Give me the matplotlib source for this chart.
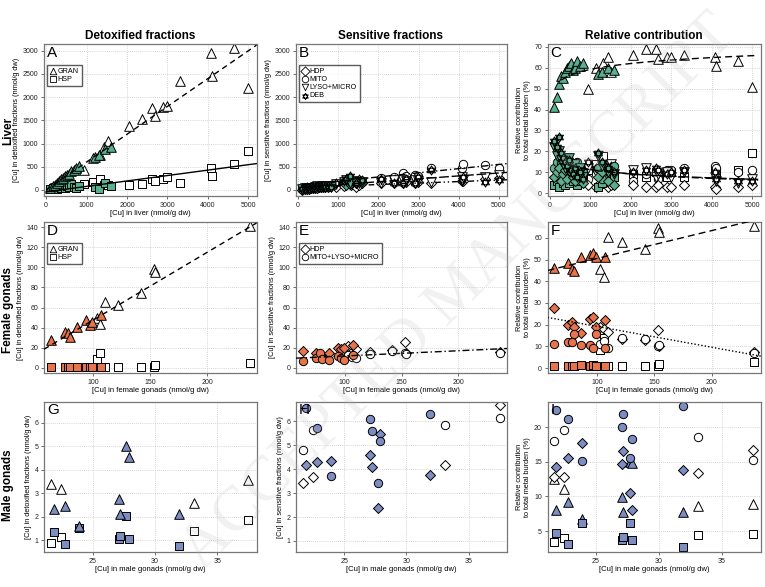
import numpy as np
import matplotlib
matplotlib.use('Agg')
import matplotlib.pyplot as plt
from matplotlib.path import Path

plt.rcParams['font.family'] = ['Liberation Sans', 'DejaVu Sans']

# ---------------- data ----------------
GREEN = '#58b08f'
ORANGE = '#e8744c'
BLUE = '#7d8dc2'

# Liver, site 1 (filled) and site 2 (open)
liver_g_cu = [110, 180, 230, 280, 330, 380, 420, 470, 520, 570, 620, 680, 740, 820, 1200, 1300, 1450, 1600]
liver_w_cu = [950, 1150, 1330, 1440, 1520, 2060, 2380, 2620, 2680, 2900, 2990, 3320, 4080, 4110, 4650, 5000]

a_gran_g = [40, 80, 110, 150, 190, 230, 250, 300, 320, 350, 400, 430, 470, 520, 700, 760, 880, 930]
a_hsp_g = [20, 40, 60, 30, 80, 50, 100, 40, 90, 60, 120, 70, 50, 90, 60, 20, 150, 80]
a_gran_w = [430, 680, 760, 930, 1050, 1380, 1520, 1760, 1590, 1790, 1800, 2350, 2950, 2450, 3050, 2200]
a_hsp_w = [120, 180, 230, 100, 110, 108, 120, 230, 200, 230, 270, 140, 480, 300, 560, 830]

b_hdp_g = [10, 20, 25, 30, 35, 45, 40, 50, 55, 60, 60, 70, 70, 80, 110, 120, 140, 150]
b_mito_g = [15, 25, 20, 40, 35, 55, 50, 40, 60, 80, 70, 90, 65, 100, 150, 130, 200, 170]
b_lyso_g = [25, 35, 45, 45, 50, 45, 60, 80, 70, 65, 90, 70, 90, 70, 220, 160, 150, 180]
b_deb_g = [30, 40, 60, 50, 55, 60, 55, 75, 65, 60, 75, 55, 80, 60, 240, 300, 160, 210]
b_hdp_w = [60, 90, 110, 70, 100, 160, 150, 160, 170, 140, 180, 150, 200, 190, 230, 250]
b_mito_w = [110, 150, 170, 160, 190, 250, 290, 355, 300, 330, 300, 470, 470, 560, 540, 470]
b_lyso_w = [120, 170, 140, 200, 160, 160, 220, 215, 190, 215, 200, 180, 290, 215, 290, 330]
b_deb_w = [150, 190, 210, 150, 230, 230, 160, 140, 230, 140, 270, 420, 215, 290, 180, 215]

c_gran_g = [41, 46, 52, 56, 55, 58, 60, 61, 62, 59, 60, 63, 61, 62, 57, 58, 60, 59]
c_hsp_g = [4, 6, 3, 8, 5, 4, 7, 5, 9, 6, 10, 4, 6, 7, 3, 5, 12, 8]
c_hdp_g = [8, 10, 12, 6, 9, 11, 7, 13, 10, 8, 6, 9, 12, 5, 8, 10, 6, 4]
c_mito_g = [12, 15, 9, 14, 11, 16, 13, 8, 12, 14, 11, 15, 9, 10, 12, 7, 11, 13]
c_lyso_g = [22, 18, 20, 16, 14, 12, 15, 17, 13, 11, 14, 10, 12, 8, 18, 13, 10, 9]
c_deb_g = [25, 22, 27, 19, 17, 15, 13, 16, 11, 9, 12, 8, 10, 7, 19, 15, 12, 10]
c_gran_w = [50, 60, 62, 65, 58, 66, 69, 69, 64, 65, 65, 66, 65, 61, 63, 51]
c_hsp_w = [11, 14, 18, 10, 9, 9, 8, 10, 9, 8, 10, 8, 11, 10, 11, 19]
c_hdp_w = [4, 3, 5, 3, 4, 4, 3, 3, 4, 3, 3, 4, 3, 2, 3, 4]
c_mito_w = [7, 9, 10, 8, 11, 6, 9, 10, 7, 11, 11, 12, 13, 12, 10, 11]
c_lyso_w = [12, 10, 12, 9, 14, 11, 12, 8, 9, 10, 8, 10, 8, 6, 5, 7]
c_deb_w = [15, 12, 10, 11, 13, 10, 11, 12, 11, 9, 10, 11, 10, 7, 6, 6]

# Female gonads
fem_o_cu = [63, 75, 78, 80, 86, 94, 97, 99, 107]
fem_w_cu = [103, 106, 110, 122, 142, 153, 154, 237]
d_gran_o = [28, 36, 35, 31, 41, 48, 43, 46, 53]
d_hsp_o = [0.5, 0.5, 0.5, 0.5, 1, 0.5, 1, 0.5, 0.5]
d_gran_w = [50, 44, 66, 63, 74, 98, 95, 141]
d_hsp_w = [9, 15, 1, 1, 1, 1, 3, 5]
e_hdp_o = [17, 15, 13, 11, 15, 20, 19, 20, 23]
e_mito_o = [7, 10, 15, 9, 8, 12, 10, 8, 13]
e_hdp_w = [22, 16, 19, 16, 18, 26, 15, 16]
e_mito_w = [13, 11, 10, 14, 17, 15, 14, 15]
f_gran_o = [46, 48.5, 45.5, 44.5, 51, 52, 53, 51, 51]
f_hsp_o = [1, 1, 1, 1, 1.5, 1, 1.5, 1, 1]
f_hdp_o = [27.5, 19.7, 21, 19, 16, 22.5, 23.5, 19, 22]
f_mito_o = [11, 12.2, 12, 15.5, 10.8, 10.8, 9, 15.5, 9]
f_gran_w = [45.5, 42, 60.5, 58, 55, 64.5, 62.5, 65.5]
f_hsp_w = [8.5, 14, 1, 1, 1, 1, 2, 2.6]
f_hdp_w = [18.7, 18, 16.5, 13.5, 13, 17.3, 10, 7.4]
f_mito_w = [11, 12.5, 9.2, 14, 13.2, 10, 10.5, 7]

# Male gonads
male_b_cu = [21.9, 22.8, 23.9, 27.1, 27.2, 27.7, 27.9, 31.9]
male_w_cu = [21.7, 22.5, 33.1, 37.5]
g_gran_b = [2.35, 2.46, 1.61, 2.74, 2.13, 5.0, 4.55, 2.1]
g_hsp_b = [1.35, 0.86, 1.5, 1.07, 1.16, 2.02, 1.07, 0.74]
g_gran_w = [3.38, 3.17, 2.6, 3.55]
g_hsp_w = [0.89, 1.14, 1.4, 1.85]
h_hdp_b = [4.18, 4.28, 4.35, 4.58, 4.08, 2.36, 5.45, 3.76]
h_mito_b = [6.56, 5.72, 3.72, 6.1, 5.58, 3.44, 5.16, 6.28]
h_hdp_w = [3.41, 3.69, 4.18, 6.66]
h_mito_w = [4.78, 5.65, 5.82, 6.14]
i_gran_b = [8.0, 9.2, 6.8, 9.9, 7.7, 15.0, 14.8, 7.7]
i_hsp_b = [4.7, 3.2, 6.2, 3.8, 4.1, 6.2, 3.7, 2.7]
i_hdp_b = [14.3, 15.6, 17.7, 14.7, 16.5, 10.5, 8.0, 13.8]
i_mito_b = [22.5, 21.1, 15.1, 20.0, 21.9, 15.6, 18.3, 23.0]
i_gran_w = [12.5, 11.1, 8.6, 8.9]
i_hsp_w = [3.4, 4.0, 4.5, 4.6]
i_hdp_w = [12.8, 12.8, 13.4, 16.7]
i_mito_w = [18.0, 19.6, 18.6, 15.3]

# fitted trend lines (intercept, slope)
fit_a_gran = (0, 0.6)
fit_a_hsp = (-40, 0.117)
fit_b = [(100, 0.09), (51, 0.063), (53, 0.032)]
fit_c_gran = (30.8, 4.1)      # a + b*ln(x)
fit_c_rest = [(32.4, -3.05), (31.0, -2.85)]
fit_d_gran = (-19.8, 0.674)
fit_e = (6.8, 0.0515)
fit_f_gran = (37.6, 0.1287)
fit_f_rest = (28.8, -0.0961)

# DEB marker: two overlapping triangles
_v = [(0, 1), (-0.866, -0.5), (0.866, -0.5), (0, 1),
      (0, -1), (0.866, 0.5), (-0.866, 0.5), (0, -1)]
_c = [Path.MOVETO, Path.LINETO, Path.LINETO, Path.CLOSEPOLY] * 2
DEB = Path(_v, _c)

# marker sizes
S_TRI, S_SQ, S_CIR, S_DIA, S_STAR = 48, 34, 36, 26, 44

W, H = 765, 587
fig = plt.figure(figsize=(W / 100, H / 100), dpi=100)

cols = [(44, 256.5), (296, 507), (547.5, 761)]
rows = [(44, 196), (222, 373), (402, 552)]


def make_ax(r, c):
    l, rr = cols[c]
    t, b = rows[r]
    ax = fig.add_axes([l / W, 1 - b / H, (rr - l) / W, (b - t) / H])
    for s in ax.spines.values():
        s.set_color('#777777')
        s.set_linewidth(0.9)
    ax.tick_params(labelsize=5, length=2.5, width=0.6, color='#555555', pad=1.5, labelcolor='#222222')
    ax.grid(True, color='#c8c8c8', linestyle=(0, (1, 1.5)), linewidth=0.6)
    ax.set_axisbelow(True)
    return ax


def pts(ax, x, y, marker, fc, s):
    ax.scatter(x, y, marker=marker, s=s, facecolors=fc, edgecolors='black', linewidths=0.7, zorder=2)


def letter(ax, t):
    ax.text(0.015, 0.99, t, transform=ax.transAxes, fontsize=11, va='top', ha='left', zorder=5)


def legend(ax, items):
    hs = []
    for m, lab in items:
        hs.append(ax.scatter([], [], marker=m, s=22, facecolors='white', edgecolors='black', linewidths=0.6, label=lab))
    lg = ax.legend(handles=hs, loc='upper left', bbox_to_anchor=(0.0, 0.88), fontsize=5.2,
                   frameon=True, fancybox=False, handletextpad=0.1, borderpad=0.4,
                   labelspacing=0.15, handlelength=1.0, borderaxespad=0.4)
    lg.get_frame().set_edgecolor('#333333')
    lg.get_frame().set_linewidth(1.0)


def line(ax, x0, x1, a, b, ls, log=False):
    xs = np.linspace(x0, x1, 100)
    ys = a + b * (np.log(xs) if log else xs)
    ax.plot(xs, ys, color='black', linestyle=ls, linewidth=1.0, zorder=3)


ylab_det = '[Cu] in detoxified fractions (nmol/g dw)'
ylab_sen = '[Cu] in sensitive fractions (nmol/g dw)'
ylab_rel = 'Relative contribution\nto total metal burden (%)'
lab_kw = dict(fontsize=5.3, labelpad=2)

# ---- A ----
ax = make_ax(0, 0)
pts(ax, liver_w_cu, a_gran_w, '^', 'white', S_TRI)
pts(ax, liver_w_cu, a_hsp_w, 's', 'white', S_SQ)
pts(ax, liver_g_cu, a_hsp_g, 's', GREEN, S_SQ)
pts(ax, liver_g_cu, a_gran_g, '^', GREEN, S_TRI)
line(ax, 0, 5200, *fit_a_gran, (0, (4, 3)))
line(ax, 0, 5200, *fit_a_hsp, '-')
ax.set_xlim(-50, 5200)
ax.set_ylim(-130, 3145)
ax.set_xticks(range(0, 5001, 1000))
ax.set_yticks(range(0, 3001, 500))
ax.set_ylabel(ylab_det, **lab_kw)
ax.set_xlabel('[Cu] in liver (nmol/g dw)', fontsize=5.5, labelpad=1)
letter(ax, 'A')
legend(ax, [('^', 'GRAN'), ('s', 'HSP')])

# ---- B ----
ax = make_ax(0, 1)
pts(ax, liver_w_cu, b_mito_w, 'o', 'white', S_CIR)
pts(ax, liver_w_cu, b_hdp_w, 'D', 'white', S_DIA)
pts(ax, liver_w_cu, b_lyso_w, 'v', 'white', S_TRI)
pts(ax, liver_w_cu, b_deb_w, DEB, 'white', S_STAR)
pts(ax, liver_g_cu, b_mito_g, 'o', GREEN, S_CIR)
pts(ax, liver_g_cu, b_hdp_g, 'D', GREEN, S_DIA)
pts(ax, liver_g_cu, b_lyso_g, 'v', GREEN, S_TRI)
pts(ax, liver_g_cu, b_deb_g, DEB, GREEN, S_STAR)
for (a, b), ls in zip(fit_b, [(0, (5, 2, 1, 2)), (0, (7, 2)), (0, (4, 2, 1, 2, 1, 2))]):
    line(ax, 100, 5200, a, b, ls)
ax.set_xlim(-50, 5200)
ax.set_ylim(-130, 3145)
ax.set_xticks(range(0, 5001, 1000))
ax.set_yticks(range(0, 3001, 500))
ax.set_ylabel(ylab_sen, **lab_kw)
ax.set_xlabel('[Cu] in liver (nmol/g dw)', fontsize=5.5, labelpad=1)
letter(ax, 'B')
legend(ax, [('D', 'HDP'), ('o', 'MITO'), ('v', 'LYSO+MICRO'), (DEB, 'DEB')])

# ---- C ----
ax = make_ax(0, 2)
pts(ax, liver_w_cu, c_gran_w, '^', 'white', S_TRI)
pts(ax, liver_w_cu, c_hsp_w, 's', 'white', S_SQ)
pts(ax, liver_w_cu, c_mito_w, 'o', 'white', S_CIR)
pts(ax, liver_w_cu, c_hdp_w, 'D', 'white', S_DIA)
pts(ax, liver_w_cu, c_lyso_w, 'v', 'white', S_TRI)
pts(ax, liver_w_cu, c_deb_w, DEB, 'white', S_STAR)
pts(ax, liver_g_cu, c_gran_g, '^', GREEN, S_TRI)
pts(ax, liver_g_cu, c_hsp_g, 's', GREEN, S_SQ)
pts(ax, liver_g_cu, c_mito_g, 'o', GREEN, S_CIR)
pts(ax, liver_g_cu, c_hdp_g, 'D', GREEN, S_DIA)
pts(ax, liver_g_cu, c_lyso_g, 'v', GREEN, S_TRI)
pts(ax, liver_g_cu, c_deb_g, DEB, GREEN, S_STAR)
line(ax, 290, 5150, *fit_c_gran, (0, (5, 3)), log=True)
line(ax, 450, 5150, *fit_c_rest[0], (0, (5, 2, 1, 2)), log=True)
line(ax, 450, 5150, *fit_c_rest[1], (0, (7, 2)), log=True)
ax.set_xlim(-50, 5220)
ax.set_ylim(-1.3, 71.3)
ax.set_xticks(range(0, 5001, 1000))
ax.set_yticks(range(0, 71, 10))
ax.set_ylabel(ylab_rel, **lab_kw)
ax.set_xlabel('[Cu] in liver (nmol/g dw)', fontsize=5.5, labelpad=1)
letter(ax, 'C')

# ---- D ----
ax = make_ax(1, 0)
pts(ax, fem_w_cu, d_gran_w, '^', 'white', S_TRI)
pts(ax, fem_w_cu, d_hsp_w, 's', 'white', S_SQ)
pts(ax, fem_o_cu, d_hsp_o, 's', ORANGE, S_SQ)
pts(ax, fem_o_cu, d_gran_o, '^', ORANGE, S_TRI)
line(ax, 57, 243, *fit_d_gran, (0, (4, 3)))
ax.set_xlim(57, 243)
ax.set_ylim(-5, 145)
ax.set_xticks([100, 150, 200])
ax.set_yticks(range(0, 141, 20))
ax.set_ylabel(ylab_det, **lab_kw)
ax.set_xlabel('[Cu] in female gonads (nmol/g dw)', fontsize=5.5, labelpad=1)
letter(ax, 'D')
legend(ax, [('^', 'GRAN'), ('s', 'HSP')])

# ---- E ----
ax = make_ax(1, 1)
pts(ax, fem_w_cu, e_hdp_w, 'D', 'white', S_DIA)
pts(ax, fem_w_cu, e_mito_w, 'o', 'white', S_CIR)
pts(ax, fem_o_cu, e_hdp_o, 'D', ORANGE, S_DIA)
pts(ax, fem_o_cu, e_mito_o, 'o', ORANGE, S_CIR)
line(ax, 57, 243, *fit_e, (0, (5, 2, 1, 2)))
ax.set_xlim(57, 243)
ax.set_ylim(-5, 145)
ax.set_xticks([100, 150, 200])
ax.set_yticks(range(0, 141, 20))
ax.set_ylabel(ylab_sen, **lab_kw)
ax.set_xlabel('[Cu] in female gonads (nmol/g dw)', fontsize=5.5, labelpad=1)
letter(ax, 'E')
legend(ax, [('D', 'HDP'), ('o', 'MITO+LYSO+MICRO')])

# ---- F ----
ax = make_ax(1, 2)
pts(ax, fem_w_cu, f_gran_w, '^', 'white', S_TRI)
pts(ax, fem_w_cu, f_hsp_w, 's', 'white', S_SQ)
pts(ax, fem_w_cu, f_hdp_w, 'D', 'white', S_DIA)
pts(ax, fem_w_cu, f_mito_w, 'o', 'white', S_CIR)
pts(ax, fem_o_cu, f_gran_o, '^', ORANGE, S_TRI)
pts(ax, fem_o_cu, f_hsp_o, 's', ORANGE, S_SQ)
pts(ax, fem_o_cu, f_hdp_o, 'D', ORANGE, S_DIA)
pts(ax, fem_o_cu, f_mito_o, 'o', ORANGE, S_CIR)
line(ax, 57, 243, *fit_f_gran, (0, (5, 3)))
line(ax, 57, 243, *fit_f_rest, (0, (1, 1.5)))
ax.set_xlim(57, 243)
ax.set_ylim(-2.3, 67.3)
ax.set_xticks([100, 150, 200])
ax.set_yticks(range(0, 61, 10))
ax.set_ylabel(ylab_rel, **lab_kw)
ax.set_xlabel('[Cu] in female gonads (nmol/g dw)', fontsize=5.5, labelpad=1)
letter(ax, 'F')

# ---- G ----
ax = make_ax(2, 0)
pts(ax, male_w_cu, g_gran_w, '^', 'white', S_TRI)
pts(ax, male_w_cu, g_hsp_w, 's', 'white', S_SQ)
pts(ax, male_b_cu, g_hsp_b, 's', BLUE, S_SQ)
pts(ax, male_b_cu, g_gran_b, '^', BLUE, S_TRI)
ax.set_xlim(21.1, 38.15)
ax.set_ylim(0.5, 6.88)
ax.set_xticks([25, 30, 35])
ax.set_yticks(range(1, 7))
ax.set_ylabel(ylab_det, **lab_kw)
ax.set_xlabel('[Cu] in male gonads (nmol/g dw)', fontsize=5.5, labelpad=1)
letter(ax, 'G')

# ---- H ----
ax = make_ax(2, 1)
pts(ax, male_w_cu, h_hdp_w, 'D', 'white', S_DIA)
pts(ax, male_w_cu, h_mito_w, 'o', 'white', S_CIR)
pts(ax, male_b_cu, h_hdp_b, 'D', BLUE, S_DIA)
pts(ax, male_b_cu, h_mito_b, 'o', BLUE, S_CIR)
ax.set_xlim(21.1, 38.1)
ax.set_ylim(0.54, 6.8)
ax.set_xticks([25, 30, 35])
ax.set_yticks(range(1, 7))
ax.set_ylabel(ylab_sen, **lab_kw)
ax.set_xlabel('[Cu] in male gonads (nmol/g dw)', fontsize=5.5, labelpad=1)
letter(ax, 'H')

# ---- I ----
ax = make_ax(2, 2)
pts(ax, male_w_cu, i_gran_w, '^', 'white', S_TRI)
pts(ax, male_w_cu, i_hsp_w, 's', 'white', S_SQ)
pts(ax, male_w_cu, i_hdp_w, 'D', 'white', S_DIA)
pts(ax, male_w_cu, i_mito_w, 'o', 'white', S_CIR)
pts(ax, male_b_cu, i_gran_b, '^', BLUE, S_TRI)
pts(ax, male_b_cu, i_hsp_b, 's', BLUE, S_SQ)
pts(ax, male_b_cu, i_hdp_b, 'D', BLUE, S_DIA)
pts(ax, male_b_cu, i_mito_b, 'o', BLUE, S_CIR)
ax.set_xlim(21.2, 38.1)
ax.set_ylim(2.0, 23.6)
ax.set_xticks([25, 30, 35])
ax.set_yticks([5, 10, 15, 20])
ax.set_ylabel(ylab_rel, **lab_kw)
ax.set_xlabel('[Cu] in male gonads (nmol/g dw)', fontsize=5.5, labelpad=1)
letter(ax, 'I')

# titles and row labels
for x, t in [(140, 'Detoxified fractions'), (391, 'Sensitive fractions'), (644, 'Relative contribution')]:
    fig.text(x / W, 1 - 36 / H, t, ha='center', va='center', fontsize=8.5, fontweight='bold')
for y, t in [(131, 'Liver'), (310, 'Female gonads'), (485, 'Male gonads')]:
    fig.text(8 / W, 1 - y / H, t, ha='center', va='center', rotation=90, fontsize=8.5, fontweight='bold')

# watermark
fig.text(0.6, 0.5, 'ACCEPTED MANUSCRIPT', rotation=45, ha='center', va='center',
         fontsize=46, family='Liberation Serif', color='#bbbbbb', alpha=0.2, zorder=10)

fig.savefig('out.png', dpi=100)
